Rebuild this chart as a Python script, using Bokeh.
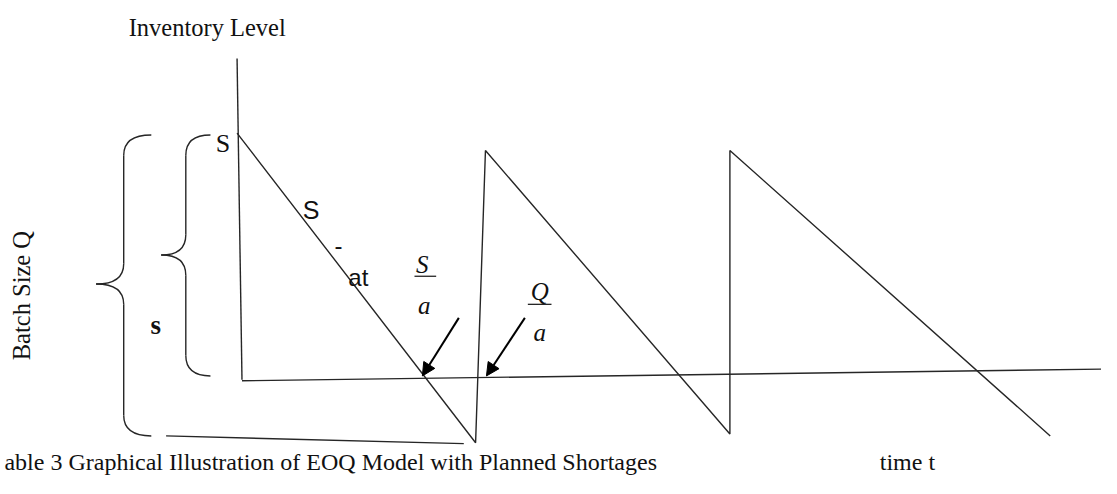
import numpy as np
from bokeh.plotting import figure
from bokeh.models import Range1d, Arrow, NormalHead
from bokeh.core.properties import value
from bokeh.embed import file_html
from bokeh.resources import INLINE

# ---- data (time t, inventory level) ----
saw_t = [240, 482, 492, 740, 740, 1065]
saw_level = [256, -64, 238, -55, 238, -57]

level_axis_t = [240, 245]
level_axis_level = [333, 1]
time_axis_t = [245, 1117]
time_axis_level = [0, 12]
batch_line_t = [168, 470]
batch_line_level = [-57, -65]

# braces: (end t, stem t, tip t, top level, bottom level, tip level)
outer_brace = (153, 125, 97, 254, -57, 100)
inner_brace = (213, 188, 163, 254, 5, 130)

# arrows: start (t, level), end (t, level)
arrow_start_t = [465, 532]
arrow_start_level = [65, 65]
arrow_end_t = [428, 493]
arrow_end_level = [5, 5]

SERIF = "Liberation Serif"
SANS = "Liberation Sans"
INK = "#262626"
Y0 = 393  # picture row of level 0

p = figure(width=1101, height=478, output_backend="svg", toolbar_location=None,
           x_range=Range1d(0, 1117), y_range=Range1d(Y0 - 494, Y0 - 0),
           min_border=0)
p.axis.visible = False
p.grid.visible = False
p.outline_line_color = None
p.background_fill_color = "white"
p.border_fill_color = "white"

lw = 1.4
p.line(level_axis_t, level_axis_level, line_color=INK, line_width=lw)
p.line(time_axis_t, time_axis_level, line_color=INK, line_width=lw)
p.line(saw_t, saw_level, line_color=INK, line_width=lw)
p.line(batch_line_t, batch_line_level, line_color=INK, line_width=lw)


def brace(b, r=21):
    xe, xs, xt, yt, yb, ym = b
    x0 = [xe, xs, xt, xs]
    y0 = [yt, ym + r, ym, yb + r]
    x1 = [xs, xt, xs, xe]
    y1 = [yt - r, ym, ym - r, yb]
    cx = [xs, xs, xs, xs]
    cy = [yt, ym, ym, yb]
    p.quadratic(x0=x0, y0=y0, x1=x1, y1=y1, cx=cx, cy=cy,
                line_color=INK, line_width=lw)
    p.segment(x0=[xs, xs], y0=[yt - r, ym - r], x1=[xs, xs], y1=[ym + r, yb + r],
              line_color=INK, line_width=lw)


brace(outer_brace)
brace(inner_brace)

for i in range(2):
    p.add_layout(Arrow(end=NormalHead(size=13, fill_color="black", line_color="black"),
                       x_start=arrow_start_t[i], y_start=arrow_start_level[i],
                       x_end=arrow_end_t[i], y_end=arrow_end_level[i],
                       line_color="black", line_width=2))

# fraction bars
p.segment(x0=[420, 535], y0=[Y0 - 285, Y0 - 314], x1=[442, 559], y1=[Y0 - 285, Y0 - 314],
          line_color=INK, line_width=1.3)


def txt(x, y, s, font=SERIF, size=20, style="normal", align="left", baseline="alphabetic", angle=0.0):
    p.text(x=[x], y=[Y0 - y], text=[s], text_font=value(font), text_font_size=f"{size}px",
           text_font_style=style, text_align=align, text_baseline=baseline,
           text_color="#111111", angle=angle)


txt(130, 28, "Inventory Level", size=24.5)
txt(218.5, 148, "S", size=26)
txt(315, 216, "S", font=SANS, size=25, align="center")
txt(343, 253, "-", font=SANS, size=24, align="center")
txt(363, 286, "at", font=SANS, size=24, align="center")
txt(157.5, 335, "s", size=27, style="bold", align="center")
txt(428, 273, "S", size=25, style="italic", align="center")
txt(430, 315, "a", size=25, style="italic", align="center")
txt(547, 301, "Q", size=25, style="italic", align="center")
txt(547, 343, "a", size=25, style="italic", align="center")
txt(21, 305, "Batch Size Q", size=24.5, align="center", baseline="middle", angle=np.pi / 2)
txt(4, 477, "able 3 Graphical Illustration of EOQ  Model with Planned Shortages", size=24)
txt(892, 477, "time t", size=24)

open("out.html", "w").write(file_html(p, INLINE))
